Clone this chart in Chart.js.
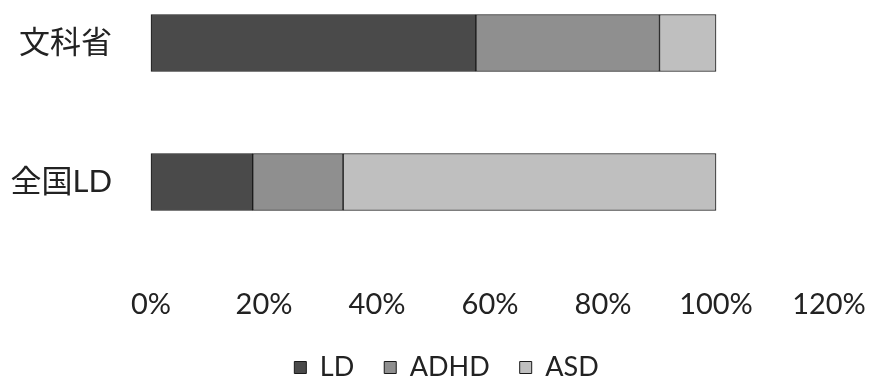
<!DOCTYPE html>
<html>
<head>
<meta charset="utf-8">
<script src="https://cdn.jsdelivr.net/npm/chart.js@4/dist/chart.umd.min.js"></script>
<style>
  html, body { margin: 0; padding: 0; background: #fff; }
  #wrap { width: 870px; height: 380px; position: relative; }
</style>
</head>
<body>
<div id="wrap"><canvas id="c" width="870" height="380"></canvas></div>
<script>
const categories = ['文科省', '全国LD'];
const seriesNames = ['LD', 'ADHD', 'ASD'];
const ldValues = [57.5, 18];
const adhdValues = [32.5, 16];
const asdValues = [10, 66];
const xTicks = [0, 20, 40, 60, 80, 100, 120];

const colors = ['#4a4a4a', '#8f8f8f', '#bfbfbf'];
const FONT = "Lato, 'Noto Sans CJK JP', sans-serif";

const datasets = [ldValues, adhdValues, asdValues].map((vals, i) => ({
  label: seriesNames[i],
  data: vals,
  backgroundColor: colors[i],
  borderColor: '#1a1a1a',
  borderWidth: 1,
  borderSkipped: false,
  barThickness: 57,
  clip: false
}));

new Chart(document.getElementById('c'), {
  type: 'bar',
  data: { labels: categories, datasets },
  options: {
    indexAxis: 'y',
    responsive: false,
    animation: false,
    devicePixelRatio: 1,
    layout: { padding: { top: 43, right: -23, left: 0, bottom: -11 } },
    scales: {
      x: {
        stacked: true,
        min: 0, max: 120,
        afterBuildTicks: (s) => { s.ticks = xTicks.map(v => ({ value: v })); },
        afterFit: (s) => { s.paddingLeft = 0; s.paddingRight = 41; s.height = 142; },
        grid: { display: false, drawTicks: false },
        border: { display: false },
        ticks: {
          padding: 105,
          color: '#222',
          font: { family: FONT, size: 29 },
          callback: (v) => v + '%'
        }
      },
      y: {
        stacked: true,
        offset: false,
        grid: { display: false, drawTicks: false },
        border: { display: false },
        afterFit: (s) => { s.width = 151; s.paddingTop = 0; s.paddingBottom = 0; },
        ticks: {
          padding: 39,
          color: '#222',
          font: { family: FONT, size: 31 }
        }
      }
    },
    plugins: {
      legend: {
        position: 'bottom',
        labels: {
          boxWidth: 12,
          boxHeight: 12,
          padding: 30,
          color: '#222',
          font: { family: FONT, size: 27 }
        }
      },
      tooltip: { enabled: false }
    }
  }
});
</script>
</body>
</html>
